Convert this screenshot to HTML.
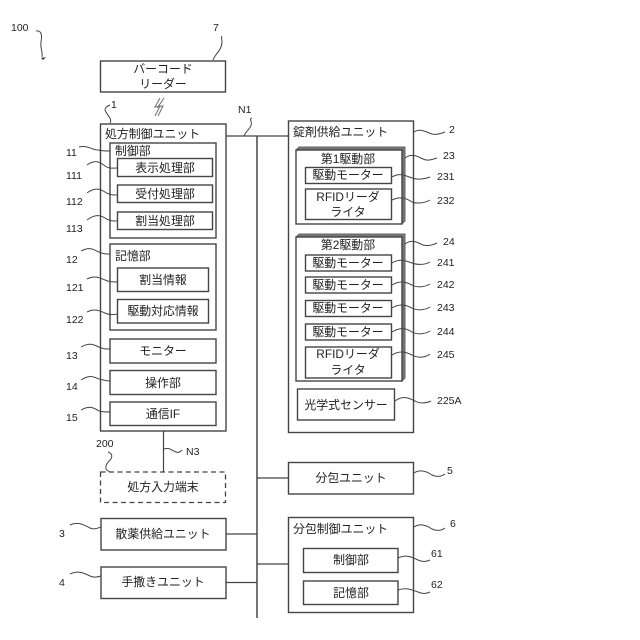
<!DOCTYPE html>
<html><head><meta charset="utf-8">
<style>
html,body{margin:0;padding:0;background:#fff}
svg{display:block}
text{font-family:"Liberation Sans","Noto Sans CJK JP",sans-serif;fill:#222}
.t{font-size:11.9px;text-anchor:middle}
.l{font-size:11.9px}
.n{font-size:10.5px}
.b{fill:#fff;stroke:#444;stroke-width:1.4}
.w{fill:none;stroke:#444;stroke-width:1}
.c{stroke:#444;stroke-width:1.2;fill:none}
</style></head>
<body>
<svg width="640" height="640" viewBox="0 0 640 640" xmlns="http://www.w3.org/2000/svg">
<!-- bus -->
<path d="M257 136V618" stroke="#666" stroke-width="1.800" fill="none"/>
<path class="c" d="M226 136H288M226 534H257M226 582.500H257M257 478H288M257 564H288M163.500 425V472"/>
<!-- barcode -->
<rect class="b" x="100.500" y="61" width="125" height="31"/>
<text class="t" x="163" y="73">バーコード</text>
<text class="t" x="163" y="88">リーダー</text>
<path d="M160 98L155 107L160 106L155 116M164 98L158 107L163 106L158 116" fill="none" stroke="#777" stroke-width="1.100"/>
<!-- unit 1 -->
<rect class="b" x="100.500" y="124" width="125.500" height="307"/>
<text class="l" x="105" y="138">処方制御ユニット</text>
<rect class="b" x="110" y="143" width="106" height="95"/>
<text class="l" x="115" y="155">制御部</text>
<rect class="b" x="117.500" y="158.500" width="95" height="18"/><text class="t" x="165" y="172">表示処理部</text>
<rect class="b" x="117.500" y="185" width="95" height="17.500"/><text class="t" x="165" y="198">受付処理部</text>
<rect class="b" x="117.500" y="212" width="95" height="17.500"/><text class="t" x="165" y="225">割当処理部</text>
<rect class="b" x="110" y="244" width="106" height="86"/>
<text class="l" x="115" y="260">記憶部</text>
<rect class="b" x="117.500" y="268" width="91" height="23.500"/><text class="t" x="163" y="284">割当情報</text>
<rect class="b" x="117.500" y="299.500" width="91" height="23.500"/><text class="t" x="163" y="315">駆動対応情報</text>
<rect class="b" x="110" y="339" width="106" height="24"/><text class="t" x="163" y="355">モニター</text>
<rect class="b" x="110" y="370.500" width="106" height="24"/><text class="t" x="163" y="387">操作部</text>
<rect class="b" x="110" y="402" width="106" height="23.500"/><text class="t" x="163" y="418">通信IF</text>
<!-- dashed -->
<rect x="100.500" y="472" width="125" height="30.500" fill="#fff" stroke="#444" stroke-width="1.300" stroke-dasharray="5 3.500"/>
<text class="t" x="163" y="491">処方入力端末</text>
<!-- 3,4 -->
<rect class="b" x="101" y="518.500" width="125" height="31.500"/><text class="t" x="163" y="538">散薬供給ユニット</text>
<rect class="b" x="101" y="567" width="125" height="31.500"/><text class="t" x="163" y="586">手撒きユニット</text>
<!-- tablet -->
<rect class="b" x="288.500" y="121" width="125" height="311.500"/>
<text class="l" x="293" y="136">錠剤供給ユニット</text>
<!-- 23 -->
<path d="M296 150L299 147H405V221L402 224Z" fill="#777" stroke="#666" stroke-width="1"/>
<rect class="b" x="296" y="150" width="106" height="74"/>
<text class="t" x="348" y="163">第1駆動部</text>
<rect class="b" x="305.500" y="167.500" width="86" height="16"/><text class="t" x="348" y="179">駆動モーター</text>
<rect class="b" x="305.500" y="189" width="86" height="30.500"/><text class="t" x="348" y="201">RFIDリーダ</text><text class="t" x="348" y="216">ライタ</text>
<!-- 24 -->
<path d="M296 237L299 234H405V378L402 381Z" fill="#777" stroke="#666" stroke-width="1"/>
<rect class="b" x="296" y="237" width="106" height="144"/>
<text class="t" x="348" y="249">第2駆動部</text>
<rect class="b" x="305.500" y="255" width="86" height="16"/><text class="t" x="348" y="267">駆動モーター</text>
<rect class="b" x="305.500" y="277" width="86" height="16"/><text class="t" x="348" y="289">駆動モーター</text>
<rect class="b" x="305.500" y="300.500" width="86" height="16"/><text class="t" x="348" y="312">駆動モーター</text>
<rect class="b" x="305.500" y="324" width="86" height="16"/><text class="t" x="348" y="336">駆動モーター</text>
<rect class="b" x="305.500" y="347" width="86" height="31"/><text class="t" x="348" y="358">RFIDリーダ</text><text class="t" x="348" y="374">ライタ</text>
<!-- sensor -->
<rect class="b" x="297.500" y="389" width="97" height="31"/><text class="t" x="346" y="409">光学式センサー</text>
<!-- 5 -->
<rect class="b" x="288.500" y="462.500" width="125" height="31.500"/><text class="t" x="351" y="482">分包ユニット</text>
<!-- 6 -->
<rect class="b" x="288.500" y="517.500" width="125" height="95"/>
<text class="l" x="293" y="533">分包制御ユニット</text>
<rect class="b" x="303.500" y="548.500" width="94.500" height="24"/><text class="t" x="351" y="564">制御部</text>
<rect class="b" x="303.500" y="581" width="94.500" height="23.500"/><text class="t" x="351" y="597">記憶部</text>
<!-- leader lines -->
<g class="w">
<path d="M36 31C42 30 42 36 41 42C40 48 43 52 42 57"/>
<path d="M213 60C215 54 222 50 222 42C222 39 221 37 222 36"/>
<path d="M110 123C113 119 106 114 105 110C105 107 108 106 110 105"/>
<path d="M79 147C88 145 92 150 98 150C102 151 104 151 110 151"/>
<path d="M87 165C95 159 100 162 105 166C109 169 113 168 117 168"/>
<path d="M87 193C95 187 100 189 105 192C109 195 113 195 117 195"/>
<path d="M87 220C95 214 100 215 105 218C109 221 113 221 117 221"/>
<path d="M81 251C90 246 94 250 99 252C103 254 106 254 110 254"/>
<path d="M87 279C95 275 100 278 105 280C109 282 113 282 117 282"/>
<path d="M87 312C95 308 100 311 105 313C109 315 113 315 117 314"/>
<path d="M81 347C90 342 94 345 99 347C103 349 106 349 110 349"/>
<path d="M81 380C90 374 94 377 99 379C103 380 106 381 110 381"/>
<path d="M81 410C90 405 94 408 99 411C103 412 106 412 110 412"/>
<path d="M108 452C112 453 113 457 110 460C107 463 105 466 106 469C107 471 109 471 110 472"/>
<path d="M164 449C170 447 172 451 176 452C179 453 180 452 182 450"/>
<path d="M70 525C78 521 84 525 90 528C94 530 98 528 101 527"/>
<path d="M70 574C78 570 84 573 90 576C94 578 98 577 101 576"/>
<path d="M244 136C246 130 253 128 251 121C250 119 251 118 252 118"/>
<path d="M414 132C420 128 426 132 432 134C436 135 440 134 445 132"/>
<path d="M405 158C411 153 417 156 423 159C427 161 431 160 437 158"/>
<path d="M392 177C400 172 406 176 412 178C417 180 425 179 430 177"/>
<path d="M392 200C400 196 406 198 412 202C417 204 425 203 430 200"/>
<path d="M405 244C411 239 417 242 423 245C427 246 431 246 437 243"/>
<path d="M392 263C400 258 406 261 412 263C417 265 425 265 430 262"/>
<path d="M392 285C400 280 406 282 412 285C417 288 425 287 430 284"/>
<path d="M392 308C400 303 406 305 412 308C417 311 425 310 430 307"/>
<path d="M392 332C400 327 406 328 412 332C417 335 425 334 430 331"/>
<path d="M392 355C400 350 406 352 412 355C417 358 425 358 430 354"/>
<path d="M395 401C403 395 409 398 415 401C420 404 427 403 431 401"/>
<path d="M414 473C420 469 426 471 432 475C436 477 441 477 445 474"/>
<path d="M414 527C420 523 426 525 432 529C436 531 441 531 445 528"/>
<path d="M398 558C406 554 412 557 418 560C422 562 426 562 430 560"/>
<path d="M398 590C406 587 412 590 418 592C422 594 426 594 430 592"/>
</g>
<path d="M41 58L46 57L43 60Z" fill="#333"/>
<!-- numbers -->
<g class="n">
<text x="11" y="31">100</text>
<text x="213" y="31">7</text>
<text x="111" y="108">1</text>
<text x="66" y="156">11</text>
<text x="66" y="179">111</text>
<text x="66" y="205">112</text>
<text x="66" y="232">113</text>
<text x="66" y="263">12</text>
<text x="66" y="291">121</text>
<text x="66" y="323">122</text>
<text x="66" y="359">13</text>
<text x="66" y="390">14</text>
<text x="66" y="421">15</text>
<text x="96" y="447">200</text>
<text x="186" y="455">N3</text>
<text x="59" y="537">3</text>
<text x="59" y="586">4</text>
<text x="238" y="113">N1</text>
<text x="449" y="133">2</text>
<text x="443" y="159">23</text>
<text x="437" y="180">231</text>
<text x="437" y="204">232</text>
<text x="443" y="245">24</text>
<text x="437" y="266">241</text>
<text x="437" y="288">242</text>
<text x="437" y="311">243</text>
<text x="437" y="335">244</text>
<text x="437" y="358">245</text>
<text x="437" y="404">225A</text>
<text x="447" y="474">5</text>
<text x="450" y="527">6</text>
<text x="431" y="557">61</text>
<text x="431" y="588">62</text>
</g>
</svg>
</body></html>
